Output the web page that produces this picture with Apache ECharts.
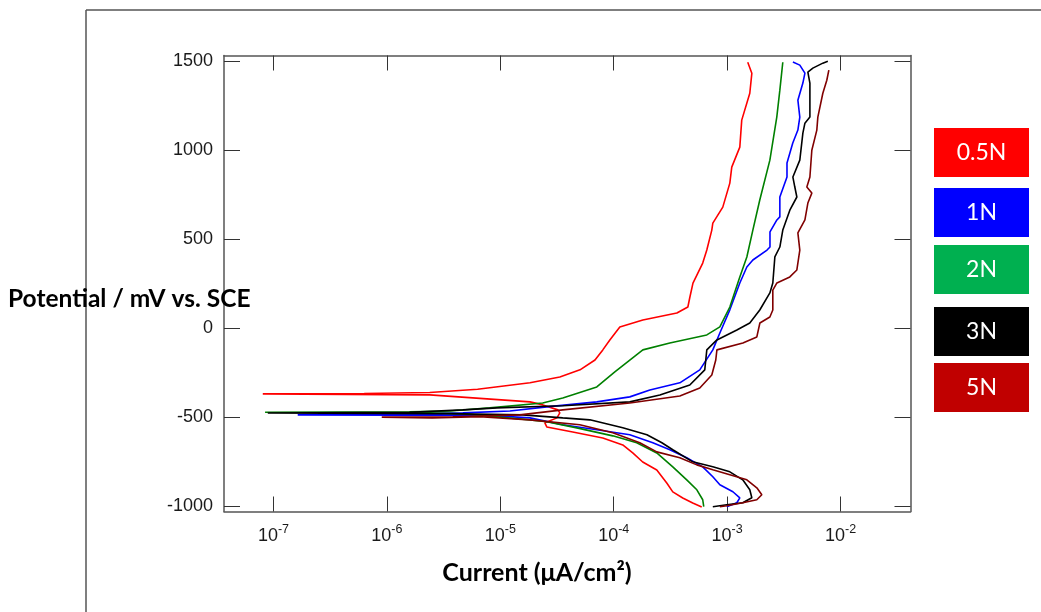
<!DOCTYPE html>
<html>
<head>
<meta charset="utf-8">
<title>Potentiodynamic polarization curves</title>
<script src="https://cdn.jsdelivr.net/npm/echarts@6.0.0/dist/echarts.min.js"></script>
<style>
  html, body { margin: 0; padding: 0; background: #ffffff; }
  #chart { width: 1041px; height: 612px; }
</style>
</head>
<body>
<div id="chart"></div>
<script>
// Polarization curves: each path runs from the cathodic end (-1000 mV),
// through the corrosion potential spike, up the anodic branch to +1500 mV.
// Current values are stored as log10 of current density (μA/cm²).

const seriesNames = ['0.5N', '1N', '2N', '3N', '5N'];

const logI_05N = [-3.224, -3.303, -3.391, -3.479, -3.532, -3.620, -3.744, -3.832, -3.920, -4.096, -4.361, -4.590, -4.607, -4.500, -4.475, -4.492, -4.625, -4.738, -5.622, -7.094,
  -6.200, -5.622, -5.200, -4.738, -4.475, -4.297, -4.165, -4.096, -4.034, -3.946, -3.743, -3.443, -3.346, -3.328, -3.301, -3.215, -3.179, -3.135, -3.126, -3.038, -2.976, -2.959, -2.888, -2.871, -2.800, -2.782, -2.818];
const mV_05N = [-1007, -984, -956, -922, -872, -799, -754, -703, -658, -619, -585, -557, -534, -506, -478, -461, -433, -416, -377, -371,
  -369, -363, -345, -309, -276, -236, -181, -124, -68, 5, 44, 83, 117, 173, 251, 364, 437, 549, 588, 678, 813, 903, 1015, 1167, 1318, 1430, 1492];

const logI_1N = [-3.003, -2.914, -2.888, -2.949, -3.064, -3.126, -3.215, -3.356, -3.505, -3.655, -3.858, -4.149, -4.449, -4.739, -5.180, -5.900, -6.786,
  -5.948, -5.330, -4.915, -4.590, -4.149, -3.858, -3.681, -3.417, -3.241, -3.126, -3.064, -2.976, -2.888, -2.826, -2.773, -2.648, -2.622, -2.622, -2.561, -2.535, -2.535, -2.472, -2.472, -2.421, -2.376, -2.359, -2.376, -2.332, -2.314, -2.359, -2.420];
const mV_1N = [-1005, -983, -955, -921, -882, -837, -781, -730, -685, -646, -601, -573, -545, -506, -489, -491, -489,
  -487, -478, -467, -444, -416, -388, -349, -309, -236, -124, -29, 101, 252, 342, 381, 437, 454, 539, 606, 623, 735, 847, 926, 1038, 1111, 1184, 1279, 1375, 1431, 1476, 1493];

const logI_2N = [-3.206, -3.215, -3.267, -3.356, -3.479, -3.620, -3.797, -4.008, -4.325, -4.590, -4.738, -5.326, -5.800, -7.074,
  -5.800, -5.446, -5.093, -4.626, -4.449, -4.149, -3.990, -3.858, -3.743, -3.505, -3.179, -3.064, -2.976, -2.888, -2.826, -2.773, -2.712, -2.623, -2.562, -2.535, -2.509];
const mV_2N = [-1005, -966, -910, -854, -781, -703, -646, -607, -562, -528, -517, -483, -476, -474,
  -472, -467, -450, -422, -394, -332, -248, -181, -124, -85, -40, 5, 117, 286, 398, 549, 718, 942, 1184, 1335, 1492];

const logI_3N = [-3.126, -3.003, -2.862, -2.782, -2.800, -2.862, -2.976, -3.126, -3.303, -3.479, -3.575, -3.707, -3.920, -4.210, -4.449, -4.802, -5.500, -7.050,
  -5.800, -5.330, -5.030, -4.449, -3.858, -3.593, -3.329, -3.197, -3.179, -3.090, -2.914, -2.800, -2.712, -2.623, -2.597, -2.579, -2.535, -2.509, -2.447, -2.385, -2.403, -2.420, -2.359, -2.332, -2.314, -2.270, -2.270, -2.288, -2.244, -2.156, -2.112];
const mV_3N = [-1005, -994, -983, -955, -910, -854, -809, -781, -753, -685, -646, -601, -562, -517, -506, -489, -482, -479,
  -474, -461, -450, -438, -416, -377, -321, -236, -124, -68, -12, 27, 100, 196, 252, 398, 454, 549, 661, 735, 791, 847, 942, 1094, 1150, 1184, 1375, 1437, 1459, 1487, 1498];

const logI_5N = [-3.064, -3.003, -2.862, -2.738, -2.694, -2.738, -2.826, -2.976, -3.126, -3.267, -3.417, -3.620, -3.770, -4.008, -4.299, -4.739, -5.180, -5.600, -6.045,
  -5.419, -4.828, -4.449, -3.858, -3.417, -3.241, -3.135, -3.100, -3.090, -2.861, -2.738, -2.711, -2.623, -2.597, -2.597, -2.561, -2.447, -2.385, -2.359, -2.376, -2.314, -2.288, -2.253, -2.297, -2.270, -2.253, -2.209, -2.200, -2.156, -2.121, -2.103];
const mV_5N = [-1005, -1000, -983, -966, -938, -899, -854, -826, -798, -770, -730, -697, -646, -590, -545, -517, -500, -506, -502,
  -500, -489, -461, -422, -383, -338, -265, -181, -124, -85, -51, 27, 61, 100, 212, 252, 286, 325, 437, 533, 606, 701, 757, 791, 847, 998, 1111, 1184, 1318, 1391, 1448];

// Tick values: decades of current, potentials in mV
const xTickDecades = [-7, -6, -5, -4, -3, -2];
const yTickValues = [-1000, -500, 0, 500, 1000, 1500];

const lineColors = ['#ff0000', '#0000ff', '#008000', '#000000', '#800000'];
const legendColors = ['#ff0000', '#0000ff', '#00b050', '#000000', '#c00000'];

const currents = [logI_05N, logI_1N, logI_2N, logI_3N, logI_5N];
const potentials = [mV_05N, mV_1N, mV_2N, mV_3N, mV_5N];

const chart = echarts.init(document.getElementById('chart'), null, { renderer: 'canvas' });

const tickFont = 'Liberation Sans, Arial, sans-serif';
const titleFont = 'Lato, Carlito, Calibri, sans-serif';
const frameColor = '#555555';

function pairs(xs, ys) {
  return xs.map((x, i) => [x, ys[i]]);
}

const series = seriesNames.map((name, k) => ({
  name: name,
  type: 'line',
  xAxisIndex: 0,
  yAxisIndex: 0,
  showSymbol: false,
  symbol: 'none',
  smooth: false,
  animation: false,
  lineStyle: { color: lineColors[k], width: 1.6 },
  data: pairs(currents[k], potentials[k])
}));

const X_MIN = -7.436, X_MAX = -1.383, Y_MIN = -1032, Y_MAX = 1530;

const commonX = {
  type: 'value',
  min: X_MIN,
  max: X_MAX,
  splitLine: { show: false },
  axisLine: { show: true, onZero: false, lineStyle: { color: frameColor, width: 1.5 } },
  axisTick: { show: true, inside: true, length: 15, customValues: xTickDecades, lineStyle: { color: '#333', width: 1 } }
};
const commonY = {
  type: 'value',
  min: Y_MIN,
  max: Y_MAX,
  splitLine: { show: false },
  axisLine: { show: true, onZero: false, lineStyle: { color: frameColor, width: 1.5 } },
  axisTick: { show: true, inside: true, length: 16, customValues: yTickValues, lineStyle: { color: '#333', width: 1 } }
};

// Legend swatches on the right
const legendTops = [128, 188, 245, 307, 363];
const legendGraphics = seriesNames.map((name, k) => ({
  type: 'group',
  left: 934,
  top: legendTops[k],
  children: [
    { type: 'rect', shape: { x: 0, y: 0, width: 95, height: 49 }, style: { fill: legendColors[k] } },
    { type: 'text', x: 47.5, y: 25, style: { text: name, fill: '#ffffff', font: '23px ' + titleFont, textAlign: 'center', textVerticalAlign: 'middle' } }
  ]
}));

const option = {
  backgroundColor: '#ffffff',
  animation: false,
  grid: { left: 224, top: 55.5, width: 686.5, height: 456, containLabel: false },
  xAxis: [
    Object.assign({}, commonX, {
      position: 'bottom',
      axisLabel: {
        show: true,
        margin: 12,
        customValues: xTickDecades,
        formatter: v => '{b|10}{s|' + Math.round(v) + '}',
        rich: {
          b: { fontSize: 18, fontFamily: tickFont, color: '#1a1a1a', lineHeight: 22, verticalAlign: 'bottom' },
          s: { fontSize: 12.5, fontFamily: tickFont, color: '#1a1a1a', lineHeight: 22, verticalAlign: 'top', padding: [0, 0, 10, 0] }
        }
      }
    }),
    Object.assign({}, commonX, { position: 'top', axisLabel: { show: false } })
  ],
  yAxis: [
    Object.assign({}, commonY, {
      position: 'left',
      axisLabel: {
        show: true, margin: 11, customValues: yTickValues,
        formatter: v => String(Math.round(v)),
        fontSize: 18, fontFamily: tickFont, color: '#1a1a1a'
      }
    }),
    Object.assign({}, commonY, { position: 'right', axisLabel: { show: false } })
  ],
  series: series,
  graphic: [
    // outer frame lines
    { type: 'line', shape: { x1: 86, y1: 10, x2: 1041, y2: 10 }, style: { stroke: frameColor, lineWidth: 1.5 }, silent: true },
    { type: 'line', shape: { x1: 86, y1: 10, x2: 86, y2: 612 }, style: { stroke: frameColor, lineWidth: 1.5 }, silent: true },
    // axis titles
    { type: 'text', x: 8, y: 299, style: { text: 'Potential / mV vs. SCE', fill: '#000', font: 'bold 24.5px ' + titleFont, textAlign: 'left', textVerticalAlign: 'middle' }, z: 10 },
    { type: 'text', x: 537, y: 573, style: { text: 'Current (μA/cm²)', fill: '#000', font: 'bold 25px ' + titleFont, textAlign: 'center', textVerticalAlign: 'middle' }, z: 10 }
  ].concat(legendGraphics)
};

chart.setOption(option);
</script>
</body>
</html>
